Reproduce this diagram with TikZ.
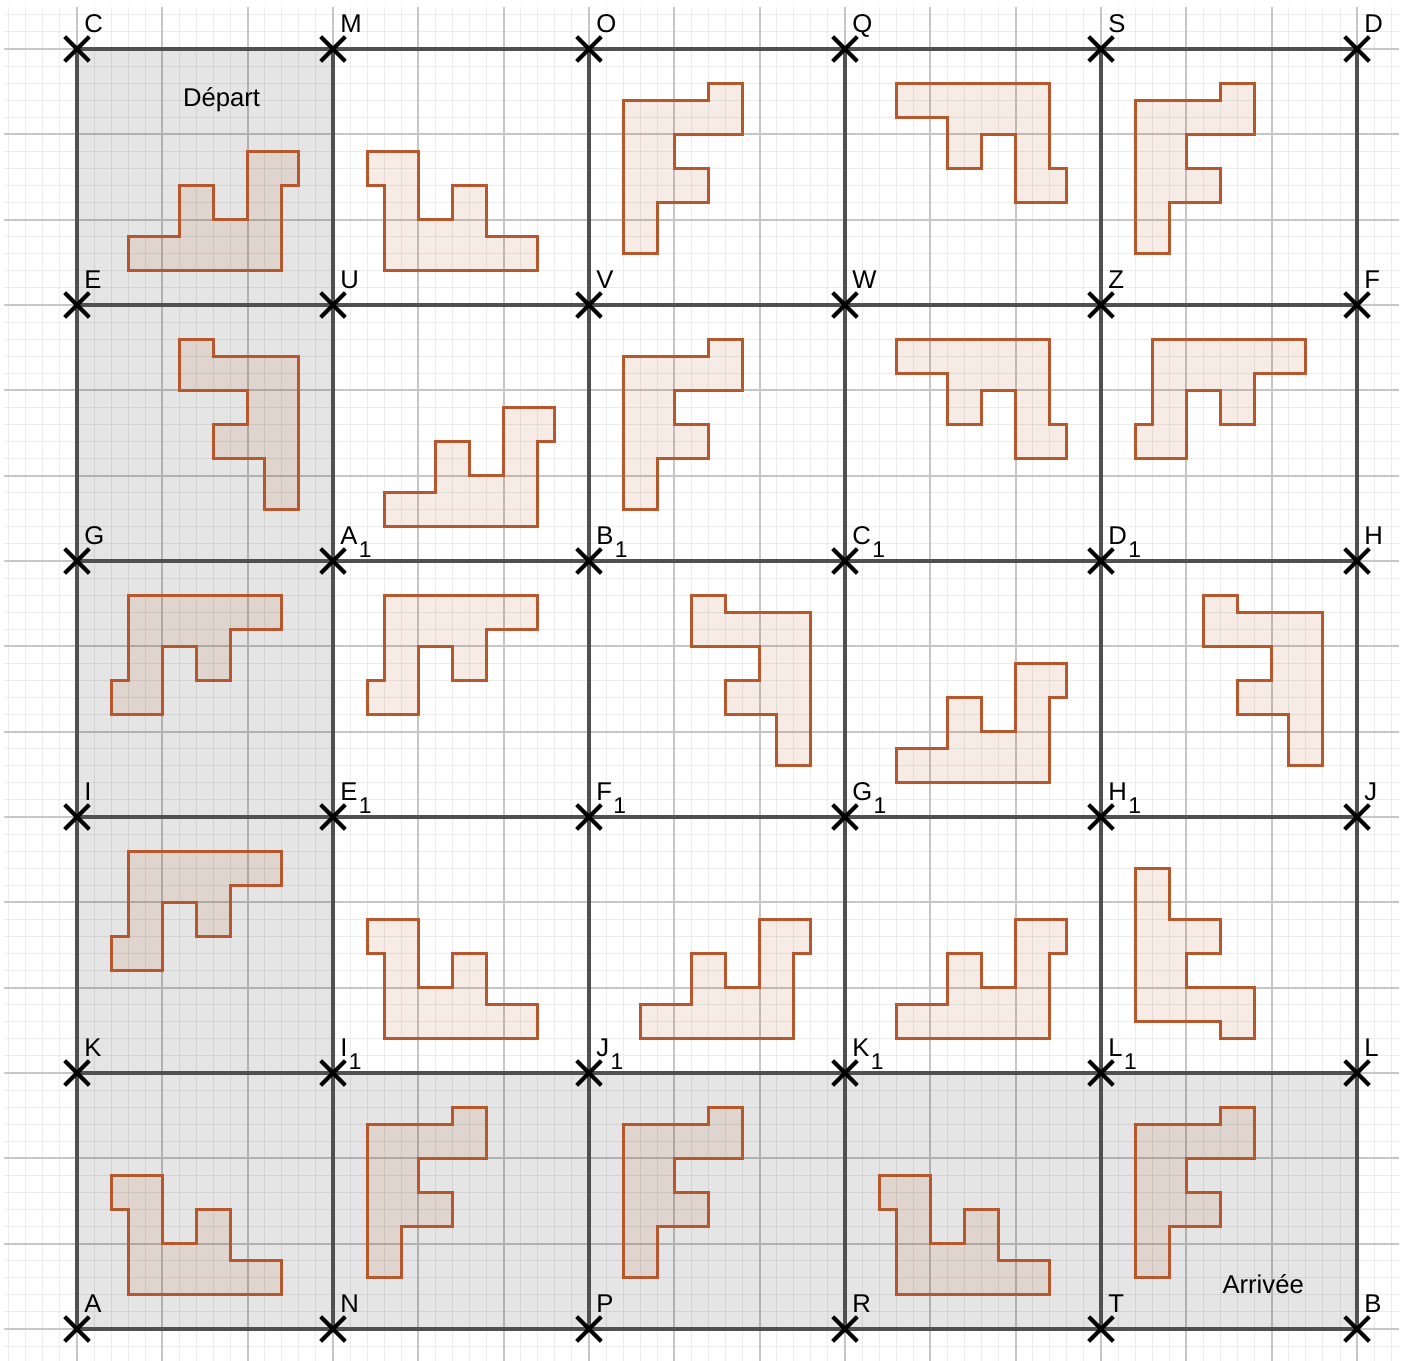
\documentclass[tikz,border=0pt]{standalone}
\usepackage{fontspec}
\setmainfont{Liberation Sans}
\usetikzlibrary{shapes.misc,backgrounds}
\definecolor{rust}{RGB}{181,88,45}
\definecolor{frame}{RGB}{80,80,80}
\definecolor{fine}{RGB}{236,236,236}
\definecolor{major}{RGB}{198,198,198}
\newcommand{\sub}[1]{\kern0.6pt\raisebox{-5.4pt}{\fontsize{9.5}{10}\selectfont #1}}

\begin{document}
\begin{tikzpicture}[
  x=0.25cm, y=0.25cm,
  font=\fontsize{10.7}{13}\selectfont,
  finegrid/.style={draw=fine, line width=0.4pt},
  majorgrid/.style={draw=major, line width=0.8pt},
  frameline/.style={draw=frame, line width=1.5pt},
  zone/.style={fill=black, fill opacity=0.1},
  piece/.style={draw=rust, line width=1.2pt, fill=rust, fill opacity=0.12, line join=miter},
  xmark/.style={cross out, draw=black, line width=1.7pt, minimum size=0.3cm, inner sep=0pt},
  ptname/.style={anchor=base west, inner sep=0pt},
  note/.style={inner sep=0pt},
  pics/stairs/.style={code={\path[piece] (3,2) -- (12,2) -- (12,7) -- (13,7) -- (13,9) -- (10,9) -- (10,5) -- (8,5) -- (8,7) -- (6,7) -- (6,4) -- (3,4) -- cycle;}},
  pics/steps/.style={code={\path[piece] (2,9) -- (2,7) -- (3,7) -- (3,2) -- (12,2) -- (12,4) -- (9,4) -- (9,7) -- (7,7) -- (7,5) -- (5,5) -- (5,9) -- cycle;}},
  pics/fshape/.style={code={\path[piece] (2,12) -- (2,3) -- (4,3) -- (4,6) -- (7,6) -- (7,8) -- (5,8) -- (5,10) -- (9,10) -- (9,13) -- (7,13) -- (7,12) -- cycle;}},
  pics/tee/.style={code={\path[piece] (3,13) -- (3,11) -- (6,11) -- (6,8) -- (8,8) -- (8,10) -- (10,10) -- (10,6) -- (13,6) -- (13,8) -- (12,8) -- (12,13) -- cycle;}},
  pics/corner/.style={code={\path[piece] (6,13) -- (6,10) -- (10,10) -- (10,8) -- (8,8) -- (8,6) -- (11,6) -- (11,3) -- (13,3) -- (13,12) -- (8,12) -- (8,13) -- cycle;}},
  pics/comb/.style={code={\path[piece] (3,13) -- (3,8) -- (2,8) -- (2,6) -- (5,6) -- (5,10) -- (7,10) -- (7,8) -- (9,8) -- (9,11) -- (12,11) -- (12,13) -- cycle;}},
  pics/boot/.style={code={\path[piece] (2,12) -- (2,3) -- (7,3) -- (7,2) -- (9,2) -- (9,5) -- (5,5) -- (5,7) -- (7,7) -- (7,9) -- (4,9) -- (4,12) -- cycle;}}
]
\useasboundingbox (-4.51,-1.82) rectangle (77.81,77.87);

% points of the board
\foreach \n/\lab [count=\i from 0] in {C/C,M/M,O/O,Q/Q,S/S,D/D}{
  \node[xmark] (\n) at (15*\i,75) {};
  \node[ptname] (l\n) at ([shift={(0.4,0.95)}]\n) {\lab};
}
\foreach \n/\lab [count=\i from 0] in {E/E,U/U,V/V,W/W,Z/Z,F/F}{
  \node[xmark] (\n) at (15*\i,60) {};
  \node[ptname] (l\n) at ([shift={(0.4,0.95)}]\n) {\lab};
}
\foreach \n/\lab [count=\i from 0] in {G/G,A1/A\sub{1},B1/B\sub{1},C1/C\sub{1},D1/D\sub{1},H/H}{
  \node[xmark] (\n) at (15*\i,45) {};
  \node[ptname] (l\n) at ([shift={(0.4,0.95)}]\n) {\lab};
}
\foreach \n/\lab [count=\i from 0] in {I/I,E1/E\sub{1},F1/F\sub{1},G1/G\sub{1},H1/H\sub{1},J/J}{
  \node[xmark] (\n) at (15*\i,30) {};
  \node[ptname] (l\n) at ([shift={(0.4,0.95)}]\n) {\lab};
}
\foreach \n/\lab [count=\i from 0] in {K/K,I1/I\sub{1},J1/J\sub{1},K1/K\sub{1},L1/L\sub{1},L/L}{
  \node[xmark] (\n) at (15*\i,15) {};
  \node[ptname] (l\n) at ([shift={(0.4,0.95)}]\n) {\lab};
}
\foreach \n/\lab [count=\i from 0] in {A/A,N/N,P/P,R/R,T/T,B/B}{
  \node[xmark] (\n) at (15*\i,0) {};
  \node[ptname] (l\n) at ([shift={(0.4,0.95)}]\n) {\lab};
}

\begin{pgfonlayer}{background}
  \begin{scope}
    \clip (-4.25,-1.9) rectangle (77.45,77.45);
    \draw[finegrid, step=1] (-5,-2) grid (78,78);
    \draw[majorgrid, step=5] (-5,-5) grid (80,80);
  \end{scope}
  % shaded route
  \fill[zone] (C.center) -- (M.center) -- (I1.center) -- (L.center) -- (B.center) -- (A.center) -- cycle;
  % board lines
  \draw[frameline] (C.center) -- (D.center);
  \draw[frameline] (E.center) -- (F.center);
  \draw[frameline] (G.center) -- (H.center);
  \draw[frameline] (I.center) -- (J.center);
  \draw[frameline] (K.center) -- (L.center);
  \draw[frameline] (A.center) -- (B.center);
  \draw[frameline] (C.center) -- (A.center);
  \draw[frameline] (M.center) -- (N.center);
  \draw[frameline] (O.center) -- (P.center);
  \draw[frameline] (Q.center) -- (R.center);
  \draw[frameline] (S.center) -- (T.center);
  \draw[frameline] (D.center) -- (B.center);
\end{pgfonlayer}

% pieces, row by row
\pic at (0,60) {stairs}; \pic at (15,60) {steps}; \pic at (30,60) {fshape}; \pic at (45,60) {tee}; \pic at (60,60) {fshape};
\pic at (0,45) {corner}; \pic at (15,45) {stairs}; \pic at (30,45) {fshape}; \pic at (45,45) {tee}; \pic at (60,45) {comb};
\pic at (0,30) {comb}; \pic at (15,30) {comb}; \pic at (30,30) {corner}; \pic at (45,30) {stairs}; \pic at (60,30) {corner};
\pic at (0,15) {comb}; \pic at (15,15) {steps}; \pic at (30,15) {stairs}; \pic at (45,15) {stairs}; \pic at (60,15) {boot};
\pic at (0,0) {steps}; \pic at (15,0) {fshape}; \pic at (30,0) {fshape}; \pic at (45,0) {steps}; \pic at (60,0) {fshape};

\node[note] (start) at (8.47,72) {Départ};
\node[note] (finish) at (69.5,2.6) {Arrivée};
\end{tikzpicture}
\end{document}
